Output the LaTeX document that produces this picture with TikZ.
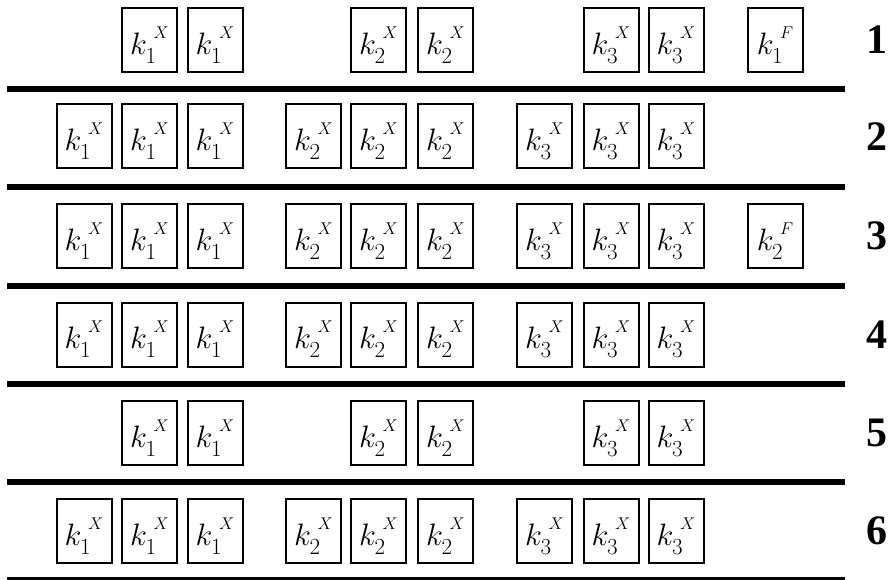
\documentclass[tikz,border=0pt]{standalone}
\usepackage{fix-cm}
\usepackage{amsmath,amssymb}
\usepackage{fontspec}
\setmainfont{Liberation Serif}

% k with a low subscript and a small raised superscript after it
\newcommand{\keylab}[2]{\raisebox{-5pt}[\height][\depth]{$k$\kern-1.5pt%
  \raisebox{-9pt}{\fontsize{23}{23}\selectfont$#1$}\kern-2.5pt%
  \raisebox{16pt}{\fontsize{17}{17}\selectfont$#2$}}}

\tikzset{
  keybox/.style={draw, line width=2pt, minimum width=55pt, minimum height=64pt,
    inner sep=0pt, font=\fontsize{31}{36}\selectfont},
  rownum/.style={font=\fontsize{42}{48}\selectfont\bfseries},
  sepline/.style={line width=6pt}
}

\begin{document}
\begin{tikzpicture}[x=1pt, y=-1pt]
        \useasboundingbox (0,0) rectangle (889,580);
        % row 1
        \node[keybox] (ra2) at (149.5,40) {\keylab{1}{X}};
        \node[keybox] (ra3) at (215,40) {\keylab{1}{X}};
        \node[keybox] (ra5) at (378.5,40) {\keylab{2}{X}};
        \node[keybox] (ra6) at (445.5,40) {\keylab{2}{X}};
        \node[keybox] (ra8) at (611,40) {\keylab{3}{X}};
        \node[keybox] (ra9) at (676,40) {\keylab{3}{X}};
        \node[keybox] (raF) at (775,40) {\keylab{1}{F}};
        \node[rownum] (na) at (877,40) {1};
        \draw[sepline] (7,89) -- (845,89);
        % row 2
        \node[keybox] (rb1) at (84,136.5) {\keylab{1}{X}};
        \node[keybox] (rb2) at (149.5,136.5) {\keylab{1}{X}};
        \node[keybox] (rb3) at (215,136.5) {\keylab{1}{X}};
        \node[keybox] (rb4) at (313.5,136.5) {\keylab{2}{X}};
        \node[keybox] (rb5) at (378.5,136.5) {\keylab{2}{X}};
        \node[keybox] (rb6) at (445.5,136.5) {\keylab{2}{X}};
        \node[keybox] (rb7) at (544.5,136.5) {\keylab{3}{X}};
        \node[keybox] (rb8) at (611,136.5) {\keylab{3}{X}};
        \node[keybox] (rb9) at (676,136.5) {\keylab{3}{X}};
        \node[rownum] (nb) at (877,136.5) {2};
        \draw[sepline] (7,187) -- (845,187);
        % row 3
        \node[keybox] (rc1) at (84,236) {\keylab{1}{X}};
        \node[keybox] (rc2) at (149.5,236) {\keylab{1}{X}};
        \node[keybox] (rc3) at (215,236) {\keylab{1}{X}};
        \node[keybox] (rc4) at (313.5,236) {\keylab{2}{X}};
        \node[keybox] (rc5) at (378.5,236) {\keylab{2}{X}};
        \node[keybox] (rc6) at (445.5,236) {\keylab{2}{X}};
        \node[keybox] (rc7) at (544.5,236) {\keylab{3}{X}};
        \node[keybox] (rc8) at (611,236) {\keylab{3}{X}};
        \node[keybox] (rc9) at (676,236) {\keylab{3}{X}};
        \node[keybox] (rcF) at (775,236) {\keylab{2}{F}};
        \node[rownum] (nc) at (877,236) {3};
        \draw[sepline] (7,285.5) -- (845,285.5);
        % row 4
        \node[keybox] (rd1) at (84,334.5) {\keylab{1}{X}};
        \node[keybox] (rd2) at (149.5,334.5) {\keylab{1}{X}};
        \node[keybox] (rd3) at (215,334.5) {\keylab{1}{X}};
        \node[keybox] (rd4) at (313.5,334.5) {\keylab{2}{X}};
        \node[keybox] (rd5) at (378.5,334.5) {\keylab{2}{X}};
        \node[keybox] (rd6) at (445.5,334.5) {\keylab{2}{X}};
        \node[keybox] (rd7) at (544.5,334.5) {\keylab{3}{X}};
        \node[keybox] (rd8) at (611,334.5) {\keylab{3}{X}};
        \node[keybox] (rd9) at (676,334.5) {\keylab{3}{X}};
        \node[rownum] (nd) at (877,334.5) {4};
        \draw[sepline] (7,383.5) -- (845,383.5);
        % row 5
        \node[keybox] (re2) at (149.5,433) {\keylab{1}{X}};
        \node[keybox] (re3) at (215,433) {\keylab{1}{X}};
        \node[keybox] (re5) at (378.5,433) {\keylab{2}{X}};
        \node[keybox] (re6) at (445.5,433) {\keylab{2}{X}};
        \node[keybox] (re8) at (611,433) {\keylab{3}{X}};
        \node[keybox] (re9) at (676,433) {\keylab{3}{X}};
        \node[rownum] (ne) at (877,433) {5};
        \draw[sepline] (7,482) -- (845,482);
        % row 6
        \node[keybox] (rf1) at (84,531) {\keylab{1}{X}};
        \node[keybox] (rf2) at (149.5,531) {\keylab{1}{X}};
        \node[keybox] (rf3) at (215,531) {\keylab{1}{X}};
        \node[keybox] (rf4) at (313.5,531) {\keylab{2}{X}};
        \node[keybox] (rf5) at (378.5,531) {\keylab{2}{X}};
        \node[keybox] (rf6) at (445.5,531) {\keylab{2}{X}};
        \node[keybox] (rf7) at (544.5,531) {\keylab{3}{X}};
        \node[keybox] (rf8) at (611,531) {\keylab{3}{X}};
        \node[keybox] (rf9) at (676,531) {\keylab{3}{X}};
        \node[rownum] (nf) at (877,531) {6};
        \draw[line width=3pt] (7,578.5) -- (845,578.5);
    \end{tikzpicture}
\end{document}
